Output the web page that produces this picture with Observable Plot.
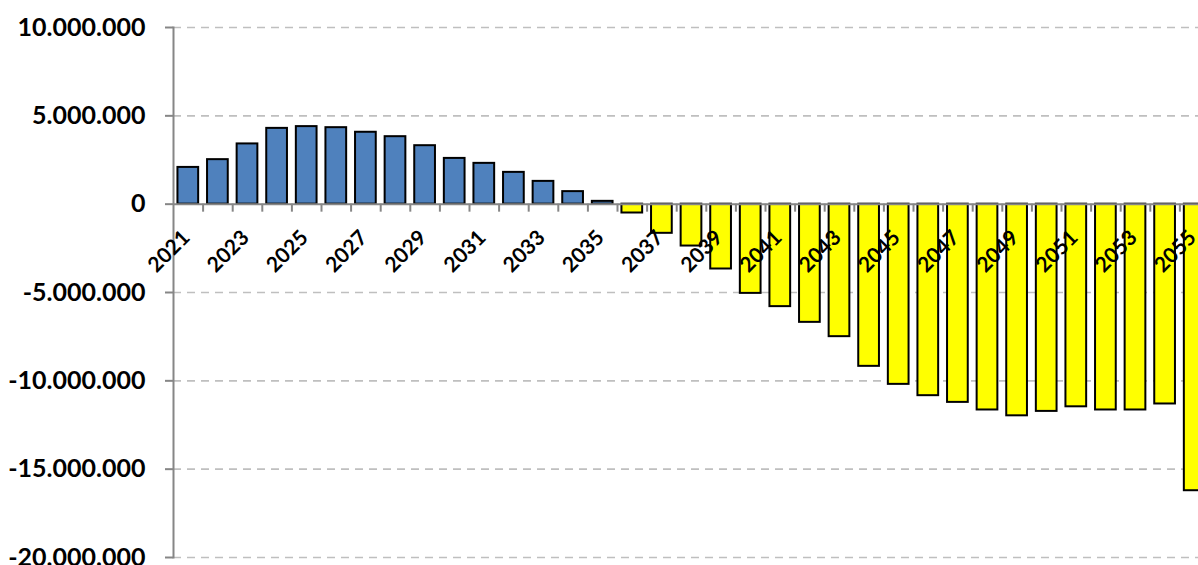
<!DOCTYPE html>
<html>
<head>
<meta charset="utf-8">
<script src="https://cdn.jsdelivr.net/npm/d3@7"></script>
<script src="https://cdn.jsdelivr.net/npm/@observablehq/plot@0.6"></script>
<style>
  html, body { margin: 0; padding: 0; background: #ffffff; }
  #chart svg { display: block; }
</style>
</head>
<body>
<div id="chart"></div>
<script>
const years = ["2021","2022","2023","2024","2025","2026","2027","2028","2029","2030",
  "2031","2032","2033","2034","2035","2036","2037","2038","2039","2040",
  "2041","2042","2043","2044","2045","2046","2047","2048","2049","2050",
  "2051","2052","2053","2054","2055"];
const values = [2080000, 2520000, 3410000, 4290000, 4390000, 4330000, 4070000, 3820000, 3310000, 2590000,
  2310000, 1800000, 1290000, 710000, 160000, -500000, -1650000, -2370000, -3670000, -5050000,
  -5800000, -6690000, -7500000, -9180000, -10200000, -10840000, -11220000, -11650000, -11980000, -11730000,
  -11470000, -11650000, -11650000, -11310000, -16220000];
const yTicks = [-20000000, -15000000, -10000000, -5000000, 0, 5000000, 10000000];
const yTickLabels = ["-20.000.000", "-15.000.000", "-10.000.000", "-5.000.000", "0", "5.000.000", "10.000.000"];
const xLabels = ["2021","2023","2025","2027","2029","2031","2033","2035","2037","2039",
  "2041","2043","2045","2047","2049","2051","2053","2055"];

const data = years.map((year, i) => ({year, value: values[i]}));
const gridTicks = yTicks.filter(d => d !== 0);

const chart = Plot.plot({
  width: 1198,
  height: 565,
  marginLeft: 173,
  marginRight: -11,
  marginTop: 27,
  marginBottom: 8,
  style: {fontFamily: "Lato, 'Liberation Sans', sans-serif", background: "#ffffff", color: "#000000", overflow: "hidden"},
  x: {domain: years, paddingInner: 0.3, paddingOuter: 0.15, round: false, axis: null},
  y: {domain: [-20000000, 10000000], axis: null},
  marks: [
    Plot.ruleY(gridTicks, {stroke: "#bfbfbf", strokeWidth: 1.6, strokeDasharray: "8,6"}),
    Plot.barY(data, {
      x: "year", y: "value",
      fill: d => d.value >= 0 ? "#4f81bd" : "#ffff00",
      stroke: "#000000", strokeWidth: 2
    }),
    Plot.ruleY([0], {stroke: "#868686", strokeWidth: 2}),
    Plot.ruleX(years, {x: d => d, y1: 0, y2: 0, insetBottom: -8, dx: 14.8, stroke: "#868686", strokeWidth: 2}),
    Plot.frame({anchor: "left", stroke: "#868686", strokeWidth: 2}),
    Plot.axisY({
      ticks: yTicks,
      tickFormat: d => yTickLabels[yTicks.indexOf(d)],
      label: null,
      tickSize: 8, tickPadding: 20,
      stroke: "#868686", strokeWidth: 2, fill: "#000000",
      fontSize: 25, fontWeight: "bold"
    }),
    Plot.text(xLabels, {
      x: d => d, y: 0,
      rotate: -45, textAnchor: "end", lineAnchor: "middle",
      dx: -2, dy: 30,
      fontSize: 21, fontWeight: "bold", fill: "#000000"
    })
  ]
});
document.getElementById("chart").appendChild(chart);
</script>
</body>
</html>
